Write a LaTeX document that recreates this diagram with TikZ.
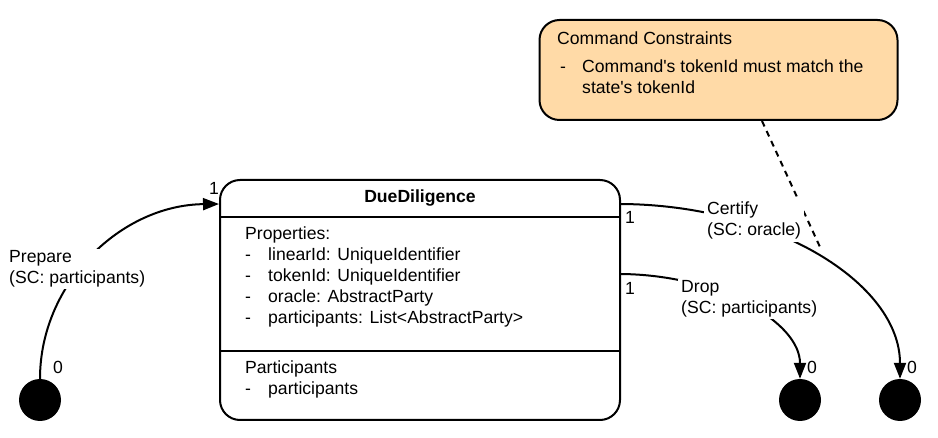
\documentclass[tikz,border=0pt]{standalone}
\usepackage{fontspec}
\setmainfont{Liberation Sans}
\usetikzlibrary{arrows.meta,calc}
\definecolor{notefill}{RGB}{255,218,167}
\begin{document}
\begin{tikzpicture}[x=1pt,y=-1pt,
  txt/.style={anchor=base west, inner sep=0pt, font=\fontsize{17.6}{21}\selectfont},
  lbl/.style={anchor=north west, inner xsep=3pt, inner ysep=2pt, fill=white, align=left, font=\fontsize{17.6}{21}\selectfont},
  conn/.style={line width=2pt, -{Triangle[length=16pt,width=12pt]}},
  endpt/.style={circle, fill=black, inner sep=0pt, minimum size=42pt},
  roundbox/.style={draw, rounded corners=20pt, line width=2pt, inner sep=0pt}]
\useasboundingbox (0,0) rectangle (938,438);

% note
\node[roundbox, fill=notefill, minimum width=358pt, minimum height=100pt] (note) at (718.5,70) {};
\node[txt] (nt) at (557,45) {Command Constraints};
\node[txt] (nd) at (560,73) {-};
\node[txt] (nl1) at (582,73) {Command\textquotesingle s tokenId must match the};
\node[txt] (nl2) at (582,94) {state\textquotesingle s tokenId};

% main box
\node[roundbox, minimum width=400pt, minimum height=240pt] (box) at (420,300) {};
\draw[line width=2pt] (box.west |- 0,217) -- (box.east |- 0,217);
\draw[line width=2pt] (box.west |- 0,351) -- (box.east |- 0,351);
\node[txt, anchor=base, font=\fontsize{17.6}{21}\selectfont\bfseries] (title) at (420,203) {DueDiligence};
\node[txt] (p0) at (245,240) {Properties:};
\foreach \y/\t [count=\i] in {261/linearId: UniqueIdentifier, 282/tokenId: UniqueIdentifier, 303/oracle: AbstractParty, 324/participants: List<AbstractParty>}{
  \node[txt] (pd\i) at (245,\y) {-};
  \node[txt] (pt\i) at (268,\y) {\t};
}
\node[txt] (q0) at (245,374) {Participants};
\node[txt] (qd) at (245,395) {-};
\node[txt] (q1) at (268,395) {participants};

% end points
\node[endpt] (c0) at (40,400) {};
\node[endpt] (c1) at (800,400) {};
\node[endpt] (c2) at (900,400) {};

% connectors
\draw[conn] (c0.north) .. controls (40,283) and (121,205) .. ([yshift=-25pt]box.north west);
\draw[conn] ([yshift=-25pt]box.north east) .. controls (774,205) and (900,283) .. (c2.north);
\draw[conn] ([yshift=-95pt]box.north east) .. controls (719,275) and (800,322) .. (c1.north);
\coordinate (dashend) at (820,247);
\draw[line width=2pt, dash pattern=on 6pt off 5pt] ([xshift=43.5pt]note.south) -- (dashend);

% connector labels
\node[lbl] (lprep) at (6,248.4) {Prepare\\(SC: participants)};
\node[lbl] (lcert) at (704,200) {Certify\\(SC: oracle)};
\node[lbl] (ldrop) at (678,278.4) {Drop\\(SC: participants)};

% multiplicities
\node[txt] (m1) at (209,195) {1};
\node[txt] (m2) at (625,224) {1};
\node[txt] (m3) at (625,295) {1};
\node[txt] (m4) at (53,374) {0};
\node[txt] (m5) at (807,374) {0};
\node[txt] (m6) at (907,374) {0};
\end{tikzpicture}
\end{document}
